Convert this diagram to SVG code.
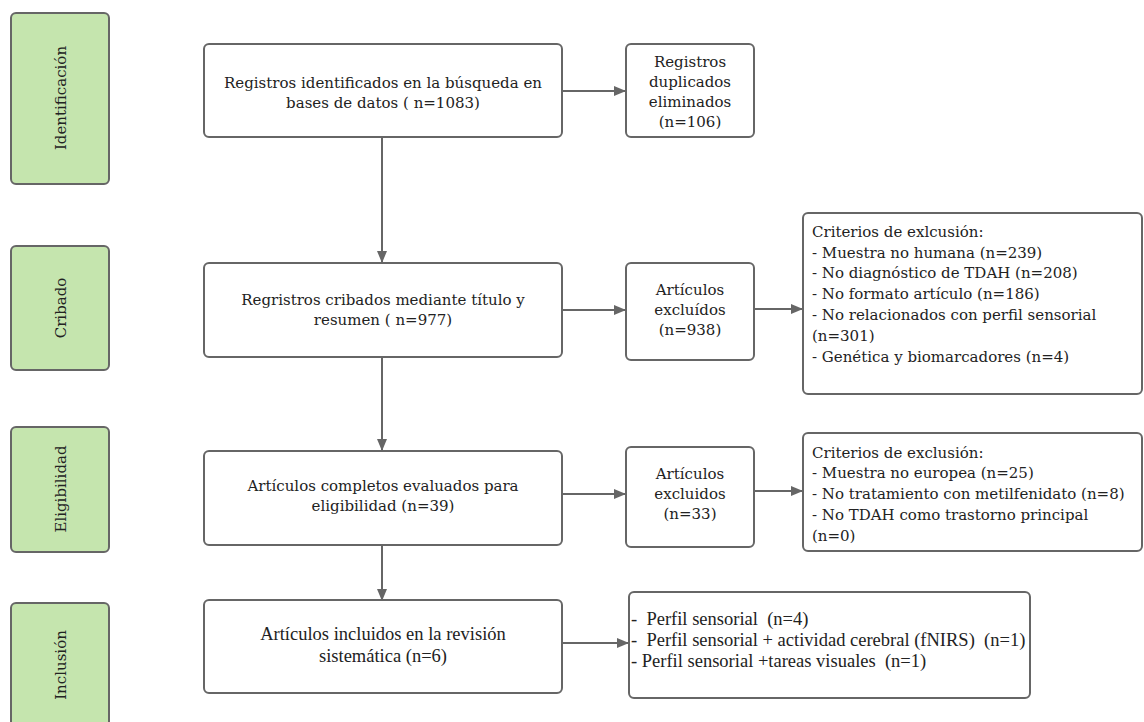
<svg xmlns="http://www.w3.org/2000/svg" width="1144" height="722" viewBox="0 0 1144 722">
<style>
.phase{fill:#c5e5ae;stroke:#666;stroke-width:2}
.box{fill:#fff;stroke:#666;stroke-width:2}
.t{font-family:"DejaVu Serif","Liberation Serif",serif;font-size:15px;fill:#222}
.c{text-anchor:middle}
.n{font-family:"Liberation Serif","DejaVu Serif",serif;font-size:18.5px;fill:#222}
.ln{stroke:#666;stroke-width:2;fill:none}
</style>
<defs>
<marker id="ah" markerWidth="12" markerHeight="10" refX="11" refY="5" orient="auto" markerUnits="userSpaceOnUse">
<path d="M0,0 L12,5 L0,10 Z" fill="#666"/>
</marker>
</defs>
<rect width="1144" height="722" fill="#fff"/>

<g id="phase-identificacion">
<rect class="phase" x="11" y="13" width="98" height="171" rx="5"/>
<text class="t c" transform="translate(66,98) rotate(-90)">Identificación</text>
</g>
<g id="phase-cribado">
<rect class="phase" x="11" y="246" width="98" height="124" rx="5"/>
<text class="t c" transform="translate(66,308) rotate(-90)">Cribado</text>
</g>
<g id="phase-eligibilidad">
<rect class="phase" x="11" y="427" width="98" height="125" rx="5"/>
<text class="t c" transform="translate(66,489) rotate(-90)">Eligibilidad</text>
</g>
<g id="phase-inclusion">
<rect class="phase" x="11" y="603" width="98" height="128" rx="5"/>
<text class="t c" transform="translate(66,665) rotate(-90)">Inclusión</text>
</g>

<g id="connectors">
<line class="ln" x1="562" y1="91" x2="625" y2="91" marker-end="url(#ah)"/>
<line class="ln" x1="382" y1="137" x2="382" y2="262" marker-end="url(#ah)"/>
<line class="ln" x1="562" y1="310" x2="625" y2="310" marker-end="url(#ah)"/>
<line class="ln" x1="754" y1="309" x2="802" y2="309" marker-end="url(#ah)"/>
<line class="ln" x1="382" y1="357" x2="382" y2="450" marker-end="url(#ah)"/>
<line class="ln" x1="562" y1="494" x2="625" y2="494" marker-end="url(#ah)"/>
<line class="ln" x1="754" y1="491" x2="802" y2="491" marker-end="url(#ah)"/>
<line class="ln" x1="382" y1="545" x2="382" y2="600" marker-end="url(#ah)"/>
<line class="ln" x1="562" y1="643" x2="628" y2="643" marker-end="url(#ah)"/>
</g>

<g id="n-identificados">
<rect class="box" x="204" y="44" width="358" height="93" rx="5"/>
<text class="t c" x="383" y="88">Registros identificados en la búsqueda en</text>
<text class="t c" x="383" y="108">bases de datos ( n=1083)</text>
</g>
<g id="n-duplicados">
<rect class="box" x="626" y="44" width="128" height="93" rx="5"/>
<text class="t c" x="690" y="67">Registros</text>
<text class="t c" x="690" y="87">duplicados</text>
<text class="t c" x="690" y="107">eliminados</text>
<text class="t c" x="690" y="127">(n=106)</text>
</g>

<g id="n-cribados">
<rect class="box" x="204" y="263" width="358" height="94" rx="5"/>
<text class="t c" x="383" y="305">Regristros cribados mediante título y</text>
<text class="t c" x="383" y="325">resumen ( n=977)</text>
</g>
<g id="n-excluidos1">
<rect class="box" x="626" y="263" width="128" height="97" rx="5"/>
<text class="t c" x="690" y="295">Artículos</text>
<text class="t c" x="690" y="315">excluídos</text>
<text class="t c" x="690" y="335">(n=938)</text>
</g>
<g id="n-criterios1">
<rect class="box" x="803" y="213" width="339" height="181" rx="5"/>
<text class="t" x="812" y="237">Criterios de exlcusión:</text>
<text class="t" x="812" y="258">- Muestra no humana (n=239)</text>
<text class="t" x="812" y="278">- No diagnóstico de TDAH (n=208)</text>
<text class="t" x="812" y="299">- No formato artículo (n=186)</text>
<text class="t" x="812" y="320">- No relacionados con perfil sensorial</text>
<text class="t" x="812" y="341">(n=301)</text>
<text class="t" x="812" y="362">- Genética y biomarcadores (n=4)</text>
</g>

<g id="n-completos">
<rect class="box" x="204" y="451" width="358" height="94" rx="5"/>
<text class="t c" x="383" y="491">Artículos completos evaluados para</text>
<text class="t c" x="383" y="511">eligibilidad (n=39)</text>
</g>
<g id="n-excluidos2">
<rect class="box" x="626" y="447" width="128" height="100" rx="5"/>
<text class="t c" x="690" y="479">Artículos</text>
<text class="t c" x="690" y="499">excluidos</text>
<text class="t c" x="690" y="519">(n=33)</text>
</g>
<g id="n-criterios2">
<rect class="box" x="803" y="433" width="339" height="118" rx="5"/>
<text class="t" x="812" y="458">Criterios de exclusión:</text>
<text class="t" x="812" y="478">- Muestra no europea (n=25)</text>
<text class="t" x="812" y="499">- No tratamiento con metilfenidato  (n=8)</text>
<text class="t" x="812" y="520">- No TDAH como trastorno principal</text>
<text class="t" x="812" y="541">(n=0)</text>
</g>

<g id="n-incluidos">
<rect class="box" x="204" y="600" width="358" height="93" rx="5"/>
<text class="n c" x="383" y="640">Artículos incluidos en la revisión</text>
<text class="n c" x="383" y="662">sistemática (n=6)</text>
</g>
<g id="n-resultados">
<rect class="box" x="629" y="592" width="401" height="106" rx="5"/>
<text class="n" x="631" y="625" xml:space="preserve">-  Perfil sensorial  (n=4)</text>
<text class="n" x="631" y="646" xml:space="preserve">-  Perfil sensorial + actividad cerebral (fNIRS)  (n=1)</text>
<text class="n" x="631" y="667" xml:space="preserve">- Perfil sensorial +tareas visuales  (n=1)</text>
</g>
</svg>
